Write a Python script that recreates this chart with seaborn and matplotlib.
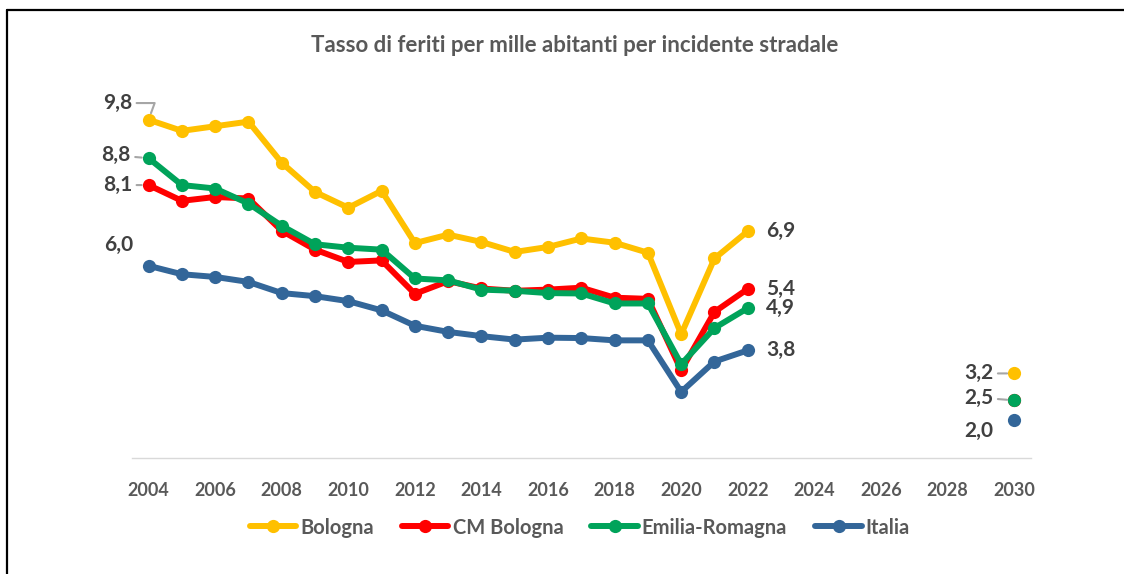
import pandas as pd
import seaborn as sns
import matplotlib.pyplot as plt
from matplotlib.lines import Line2D

# data
years = list(range(2004, 2023))
bologna = [9.8, 9.51, 9.63, 9.75, 8.68, 7.92, 7.51, 7.95, 6.59, 6.81, 6.62,
           6.36, 6.49, 6.71, 6.60, 6.34, 4.22, 6.19, 6.9]
cm_bologna = [8.1, 7.69, 7.79, 7.75, 6.91, 6.42, 6.10, 6.14, 5.27, 5.60, 5.41,
              5.35, 5.38, 5.43, 5.17, 5.14, 3.28, 4.80, 5.4]
emilia_romagna = [8.8, 8.10, 8.01, 7.62, 7.04, 6.56, 6.47, 6.42, 5.67, 5.62, 5.38,
                  5.35, 5.29, 5.28, 5.02, 5.02, 3.44, 4.38, 4.9]
italia = [6.0, 5.78, 5.71, 5.58, 5.29, 5.21, 5.08, 4.84, 4.44, 4.28, 4.17,
          4.08, 4.13, 4.12, 4.06, 4.06, 2.72, 3.51, 3.8]

target_year = 2030
targets = [3.2, 2.5, 2.5, 2.0]

series_names = ["Bologna", "CM Bologna", "Emilia-Romagna", "Italia"]
colors = ["#FFC000", "#FF0000", "#00A35A", "#336699"]
tick_years = list(range(2004, 2031, 2))

TEXT = "#595959"
LABEL = "#404040"
LEADER = "#A6A6A6"

sns.set_theme(style="white")
plt.rcParams["font.family"] = ["Lato", "DejaVu Sans"]
plt.rcParams["font.weight"] = "bold"

df = pd.DataFrame({
    "year": years * 4,
    "value": bologna + cm_bologna + emilia_romagna + italia,
    "serie": sum([[n] * len(years) for n in series_names], []),
})

fig = plt.figure(figsize=(11.24, 5.74), dpi=100)
ax = fig.add_axes([0.1174, 0.2021, 0.7996, 0.6697])

palette = dict(zip(series_names, colors))
sns.lineplot(data=df, x="year", y="value", hue="serie", palette=palette,
             marker="o", markersize=9.5, markeredgewidth=0, linewidth=4.3,
             legend=False, ax=ax)
for name, val in zip(series_names, targets):
    ax.plot([target_year], [val], "o", color=palette[name], markersize=9.5,
            markeredgewidth=0)

ax.set_xlim(2003.5, 2030.5)
ax.set_ylim(1.0, 11.0)
ax.set_xticks(tick_years)
ax.set_xticklabels([str(y) for y in tick_years], fontsize=13,
                   fontweight="bold", color=TEXT)
ax.tick_params(axis="x", length=0, pad=17)
ax.set_yticks([])
ax.set_xlabel("")
ax.set_ylabel("")
for s in ["top", "right", "left"]:
    ax.spines[s].set_visible(False)
ax.spines["bottom"].set_color("#D9D9D9")
ax.spines["bottom"].set_linewidth(1)

fmt = lambda v: f"{v:.1f}".replace(".", ",")


def leader(conn="arc3"):
    return dict(arrowstyle="-", color=LEADER, lw=1.5, shrinkA=1, shrinkB=5,
                connectionstyle=conn)


# labels at the start (2004)
start_offsets = [(-12, 12, "angle,angleA=0,angleB=70,rad=0"),
                 (-13, 2, "arc3"), (-12, 0, "arc3"), (-11, 15, None)]
for vals, (dx, dy, conn) in zip([bologna, emilia_romagna, cm_bologna, italia], start_offsets):
    ax.annotate(fmt(vals[0]), (years[0], vals[0]), xytext=(dx, dy),
                textcoords="offset points", ha="right", va="center",
                fontsize=15, fontweight="bold", color=LABEL,
                arrowprops=leader(conn) if conn else None)

# labels at the end (2022)
for vals in [bologna, cm_bologna, emilia_romagna, italia]:
    ax.annotate(fmt(vals[-1]), (years[-1], vals[-1]), xytext=(13, 0),
                textcoords="offset points", ha="left", va="center",
                fontsize=15, fontweight="bold", color=LABEL)

# labels for the 2030 targets
target_offsets = [(-15, 0, "arc3"), (-15, 2, "arc3"), (-15, -8, None)]
for val, (dx, dy, conn) in zip([targets[0], targets[1], targets[3]], target_offsets):
    ax.annotate(fmt(val), (target_year, val), xytext=(dx, dy),
                textcoords="offset points", ha="right", va="center",
                fontsize=15, fontweight="bold", color=LABEL,
                arrowprops=leader(conn) if conn else None)

fig.text(0.511, 0.921, "Tasso di feriti per mille abitanti per incidente stradale",
         ha="center", va="center", fontsize=16, fontweight="bold", color=TEXT)

handles = [Line2D([], [], color=c, lw=4.3, marker="o", markersize=9.5,
                  markeredgewidth=0) for c in colors]
fig.legend(handles, series_names, loc="center", bbox_to_anchor=(0.516, 0.081),
           ncol=4, frameon=False, handlelength=2.3, handletextpad=0.2,
           columnspacing=1.4, prop={"size": 14.5, "weight": "bold"},
           labelcolor=TEXT)

# frame of the original picture
fig.add_artist(Line2D([0.0065, 1.0], [0.983, 0.983], color="black", lw=1.6,
                      transform=fig.transFigure))
fig.add_artist(Line2D([0.0065, 0.0065], [0.0, 0.983], color="black", lw=1.6,
                      transform=fig.transFigure))

fig.savefig("out.png", dpi=100)
